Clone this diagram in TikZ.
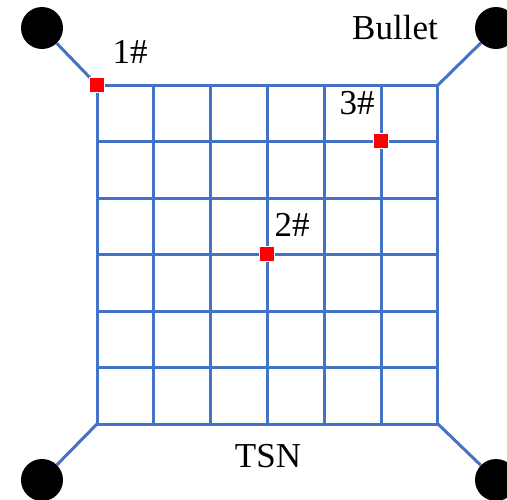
\documentclass[tikz,border=0pt]{standalone}
\usepackage{fontspec}
\setmainfont{Liberation Serif}
\definecolor{gridblue}{HTML}{4472C4}
\begin{document}
\begin{tikzpicture}[x=1pt,y=-1pt,
  gridline/.style={draw=gridblue,line width=3pt},
  bulletdot/.style={circle,fill=black,minimum size=42pt,inner sep=0pt},
  probe/.style={rectangle,fill=red,draw=white,line width=0.5pt,minimum size=15pt,inner sep=0pt},
  lbl/.style={font=\fontsize{35}{38}\selectfont,inner sep=0pt}]
\useasboundingbox (0,0) rectangle (507,499);
% grid
\foreach \i in {0,...,6}{
  \draw[gridline] (97+\i*56.83,85) -- (97+\i*56.83,424);
  \draw[gridline] (97,85+\i*56.5) -- (438,85+\i*56.5);
}
\coordinate (tl) at (97,85);
\coordinate (tr) at (438,85);
\coordinate (bl) at (97,424);
\coordinate (br) at (438,424);
% bullets
\node[bulletdot] (b1) at (42,28) {};
\node[bulletdot] (b2) at (496,28) {};
\node[bulletdot] (b3) at (42,480) {};
\node[bulletdot] (b4) at (496,480) {};
\draw[gridline] (tl) -- (b1);
\draw[gridline] (tr) -- (b2);
\draw[gridline] (bl) -- (b3);
\draw[gridline] (br) -- (b4);
% probes
\node[probe] (p1) at (97,85) {};
\node[probe] (p2) at (267,254) {};
\node[probe] (p3) at (381,141) {};
% labels
\node[lbl] (l1) at (130,52) {1\#};
\node[lbl] (l2) at (292,225) {2\#};
\node[lbl] (l3) at (357,103) {3\#};
\node[lbl] (lb) at (395,28) {Bullet};
\node[lbl] (lt) at (268,456) {TSN};
\end{tikzpicture}
\end{document}
